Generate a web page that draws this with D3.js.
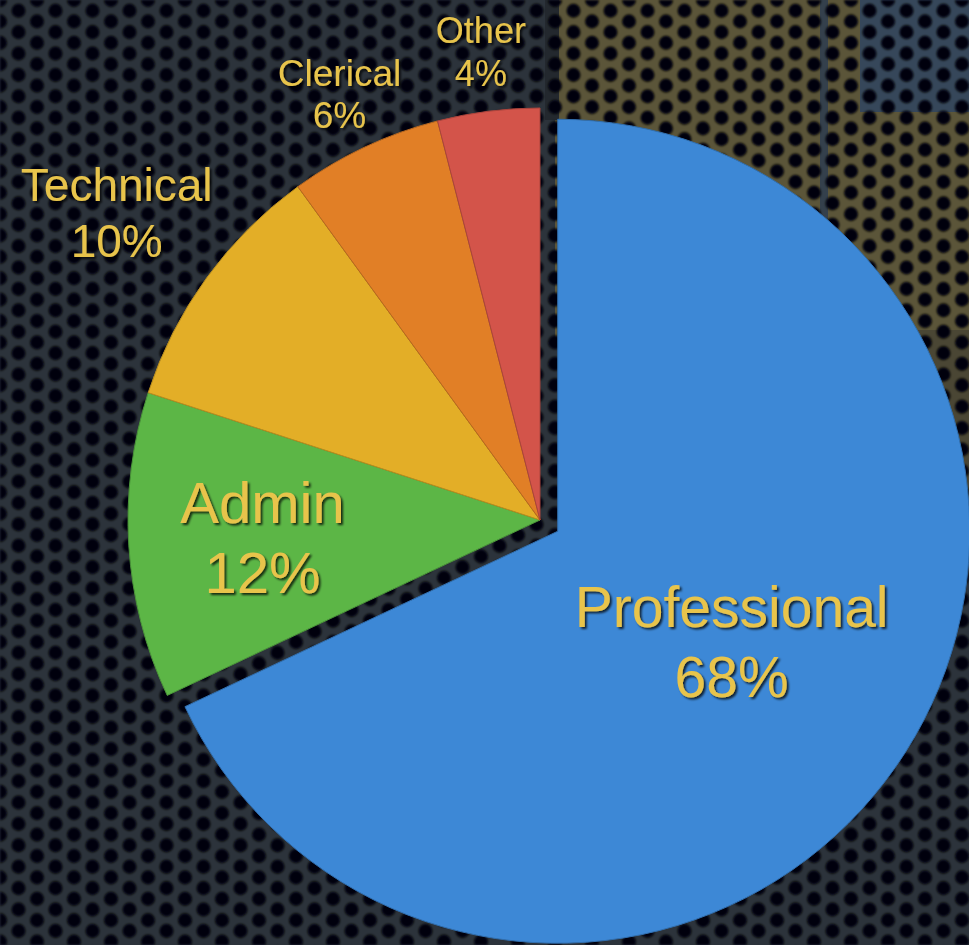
<!DOCTYPE html>
<html>
<head>
<meta charset="utf-8">
<script src="https://cdn.jsdelivr.net/npm/d3@7"></script>
<style>
  html, body { margin: 0; padding: 0; background: #1c2128; }
  svg { display: block; }
</style>
</head>
<body>
<svg id="grafico" width="969" height="945"></svg>
<script>
// dados do gráfico
const categories = ["Professional", "Admin", "Technical", "Clerical", "Other"];
const shares = [68, 12, 10, 6, 4];

class GraficoPizza {

    constructor(element_id, categories, values) {
        this.element_id = element_id;
        this.categories = categories;
        this.values = values;
        this.width = 969;
        this.height = 945;
        this.cx = 540;
        this.cy = 520;
        this.radius = 412;
        this.explode = 21;  // deslocamento da fatia destacada
        this.colors = ["#3d88d6", "#5cb646", "#e3ae27", "#e17f26", "#d3544a"];
        this.label_color = "#e8c44c";
        // raio do rótulo (fração do raio) e tamanho da fonte por categoria
        this.label_layout = {
            "Professional": {r: 0.50, size: 57, gap: 70},
            "Admin":        {r: 0.675, size: 58, gap: 70},
            "Technical":    {r: 1.27, size: 46, gap: 57},
            "Clerical":     {r: 1.143, size: 37, gap: 42},
            "Other":        {r: 1.145, size: 36, gap: 43}
        };
    }

    fundo(svg) {
        let defs = svg.append("defs");

        // malha hexagonal (colunas verticais)
        let p = defs.append("pattern")
            .attr("id", "malha")
            .attr("patternUnits", "userSpaceOnUse")
            .attr("width", 37)
            .attr("height", 21.4);
        [[0, 0], [37, 0], [0, 21.4], [37, 21.4], [18.5, 10.7]].forEach(function(c) {
            p.append("circle")
                .attr("cx", c[0]).attr("cy", c[1]).attr("r", 7)
                .attr("fill", "#040508");
        });

        defs.append("filter")
            .attr("id", "borrao")
            .append("feGaussianBlur")
            .attr("stdDeviation", 1.3);

        defs.append("filter")
            .attr("id", "sombra")
            .attr("x", "-10%").attr("y", "-20%").attr("width", "130%").attr("height", "150%")
            .append("feDropShadow")
            .attr("dx", 2).attr("dy", 2).attr("stdDeviation", 1.2)
            .attr("flood-color", "#000").attr("flood-opacity", 0.75);

        svg.append("rect").attr("width", this.width).attr("height", this.height).attr("fill", "#2c333b");
        // área amarronzada no canto superior direito
        svg.append("rect").attr("x", 555).attr("y", 0).attr("width", 414).attr("height", 340).attr("fill", "#5b5539");
        svg.append("rect").attr("x", 860).attr("y", 0).attr("width", 109).attr("height", 112).attr("fill", "#36475a");
        svg.append("rect").attr("x", 820).attr("y", 0).attr("width", 8).attr("height", 330).attr("fill", "#34404c");
        svg.append("rect").attr("x", 545).attr("y", 0).attr("width", 14).attr("height", 120).attr("fill", "#23282e");
        svg.append("rect").attr("x", 900).attr("y", 330).attr("width", 69).attr("height", 200).attr("fill", "#4a4634");
        svg.append("rect").attr("width", this.width).attr("height", this.height)
            .attr("fill", "url(#malha)")
            .attr("filter", "url(#borrao)");
    }

    criar() {
        let self = this;
        let svg = d3.select("#" + this.element_id);

        self.fundo(svg);

        let pie = d3.pie()
            .sort(null)
            .value(function(d) { return d; });
        let fatias = pie(self.values);

        let arc = d3.arc()
            .innerRadius(0)
            .outerRadius(self.radius);

        let color = d3.scaleOrdinal()
            .domain(self.categories)
            .range(self.colors);

        let g = svg.append("g")
            .attr("transform", "translate(" + self.cx + "," + self.cy + ")");

        // desloca somente a primeira fatia (Professional)
        function offset(d, i) {
            if (i !== 0) return [0, 0];
            let mid = (d.startAngle + d.endAngle) / 2;
            return [Math.sin(mid) * self.explode, -Math.cos(mid) * self.explode];
        }

        g.selectAll("path.fatia")
            .data(fatias)
            .enter()
            .append("path")
            .attr("class", "fatia")
            .attr("d", arc)
            .attr("transform", function(d, i) { let o = offset(d, i); return "translate(" + o[0] + "," + o[1] + ")"; })
            .attr("fill", function(d, i) { return color(self.categories[i]); })
            .attr("stroke", function(d, i) { return d3.color(color(self.categories[i])).darker(0.6); })
            .attr("stroke-width", 1);

        // rótulos
        let rotulos = g.selectAll("text.rotulo")
            .data(fatias)
            .enter()
            .append("text")
            .attr("class", "rotulo")
            .attr("filter", "url(#sombra)")
            .attr("text-anchor", "middle")
            .attr("fill", self.label_color)
            .style("font-family", "'Liberation Sans', Arial, Helvetica, sans-serif")
            .style("font-size", function(d, i) { return self.label_layout[self.categories[i]].size + "px"; })
            .attr("transform", function(d, i) {
                let lay = self.label_layout[self.categories[i]];
                let mid = (d.startAngle + d.endAngle) / 2;
                let o = offset(d, i);
                let x = o[0] + Math.sin(mid) * self.radius * lay.r;
                let y = o[1] - Math.cos(mid) * self.radius * lay.r;
                return "translate(" + x + "," + y + ")";
            });

        rotulos.append("tspan")
            .attr("x", 0)
            .attr("y", function(d, i) {
                let lay = self.label_layout[self.categories[i]];
                return -lay.gap / 2 + lay.size * 0.36;
            })
            .text(function(d, i) { return self.categories[i]; });

        rotulos.append("tspan")
            .attr("x", 0)
            .attr("y", function(d, i) {
                let lay = self.label_layout[self.categories[i]];
                return lay.gap / 2 + lay.size * 0.36;
            })
            .text(function(d) { return self.formatarValor(d.data); });
    }

    formatarValor(valor) {
        return valor.toLocaleString(undefined, {maximumFractionDigits: 0}) + "%";
    }
}

try {
    let grafico = new GraficoPizza("grafico", categories, shares);
    grafico.criar();
} catch (err) {
    console.log(err);
}
</script>
</body>
</html>
